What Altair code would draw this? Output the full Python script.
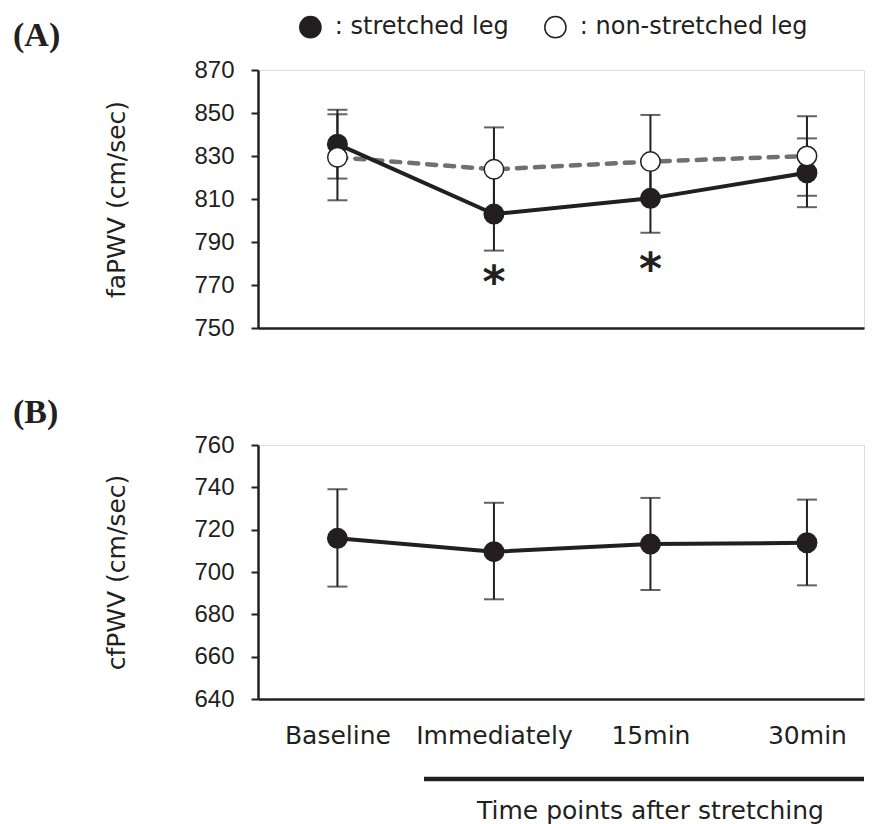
import altair as alt
import pandas as pd

INK = "#231f20"
GRAY = "#707070"

categories = ["Baseline", "Immediately", "15min", "30min"]
series_names = ["stretched leg", "non-stretched leg"]

# Panel A: faPWV (cm/sec)
a_str_mean = [835.5, 803.0, 810.3, 822.2]
a_str_hi = [851.5, 823.8, 827.4, 838.2]
a_str_lo = [819.5, 786.0, 794.3, 806.2]
a_non_mean = [829.4, 823.8, 827.4, 830.0]
a_non_hi = [849.4, 843.3, 849.1, 848.5]
a_non_lo = [809.4, 803.0, 810.3, 811.5]
a_star_cats = ["Immediately", "15min"]
a_star_vals = [774.7, 780.7]
ticks_a = [750, 770, 790, 810, 830, 850, 870]

# Panel B: cfPWV (cm/sec)
b_mean = [715.9, 709.6, 713.2, 713.8]
b_hi = [739.1, 732.7, 735.0, 734.2]
b_lo = [693.1, 687.1, 691.5, 693.7]
ticks_b = [640, 660, 680, 700, 720, 740, 760]

rows = []
for i, c in enumerate(categories):
    rows.append(dict(time=c, series=series_names[0], mean=a_str_mean[i], lo=a_str_lo[i], hi=a_str_hi[i]))
for i, c in enumerate(categories):
    rows.append(dict(time=c, series=series_names[1], mean=a_non_mean[i], lo=a_non_lo[i], hi=a_non_hi[i]))
dfA = pd.DataFrame(rows)
dfStar = pd.DataFrame(dict(time=a_star_cats, val=a_star_vals))
dfB = pd.DataFrame(dict(time=categories, mean=b_mean, lo=b_lo, hi=b_hi))
dfOne = pd.DataFrame(dict(k=[0]))

W = 606


def xenc(axis):
    return alt.X("time:N", sort=categories,
                 scale=alt.Scale(type="point", domain=categories, padding=0.436, align=0.582),
                 axis=axis)


def yaxis(title, values):
    return alt.Axis(values=values, title=title, grid=False,
                    labelFont="Liberation Sans", labelFontSize=24, labelColor=INK,
                    labelPadding=17, tickSize=7, tickWidth=2, tickColor=INK,
                    domainColor=INK, domainWidth=2.5,
                    titleFont="DejaVu Sans", titleFontSize=25, titleFontWeight="normal",
                    titleColor=INK, titleX=-129)


axA_x = alt.Axis(labels=False, ticks=False, title=None, domain=True,
                 domainWidth=2.5, domainColor=INK, grid=False)
axB_x = alt.Axis(labels=True, ticks=False, tickSize=0, grid=False,
                 labelFont="DejaVu Sans", labelFontSize=25, labelColor=INK,
                 labelPadding=24, labelAngle=0,
                 domainWidth=2.5, domainColor=INK,
                 title="Time points after stretching",
                 titleFont="DejaVu Sans", titleFontSize=25, titleFontWeight="normal",
                 titleColor=INK, titleX=392, titleY=119, titleBaseline="alphabetic")

scA = alt.Scale(domain=[750, 870], nice=False, zero=False)
scB = alt.Scale(domain=[640, 760], nice=False, zero=False)
yaA = yaxis("faPWV (cm/sec)", ticks_a)
yaB = yaxis("cfPWV (cm/sec)", ticks_b)

# ---------- Panel A ----------
baseA = alt.Chart(dfA)
errA = baseA.mark_rule(color=INK, strokeWidth=2).encode(
    x=xenc(axA_x), y=alt.Y("lo:Q", scale=scA, axis=yaA), y2="hi:Q")
capLoA = baseA.mark_tick(color=INK, thickness=2, size=20, orient="horizontal").encode(
    x=xenc(axA_x), y=alt.Y("lo:Q", scale=scA, axis=yaA))
capHiA = baseA.mark_tick(color=INK, thickness=2, size=20, orient="horizontal").encode(
    x=xenc(axA_x), y=alt.Y("hi:Q", scale=scA, axis=yaA))
lineNon = baseA.transform_filter(alt.datum.series == series_names[1]).mark_line(
    color=GRAY, strokeWidth=4.5, strokeDash=[9, 9], strokeCap="round").encode(
    x=xenc(axA_x), y=alt.Y("mean:Q", scale=scA, axis=yaA))
lineStr = baseA.transform_filter(alt.datum.series == series_names[0]).mark_line(
    color=INK, strokeWidth=4).encode(
    x=xenc(axA_x), y=alt.Y("mean:Q", scale=scA, axis=yaA))
ptsA = baseA.mark_point(shape="circle", size=380, filled=True, stroke=INK,
                        strokeWidth=1.5, opacity=1).encode(
    x=xenc(axA_x), y=alt.Y("mean:Q", scale=scA, axis=yaA),
    fill=alt.Fill("series:N",
                  scale=alt.Scale(domain=series_names, range=[INK, "white"]),
                  legend=alt.Legend(orient="none", legendX=40.4, legendY=-55,
                                    direction="horizontal", title=None,
                                    symbolType="circle", symbolSize=450,
                                    symbolStrokeColor=INK, symbolStrokeWidth=1.5,
                                    labelFont="DejaVu Sans", labelFontSize=24,
                                    labelColor=INK, labelOffset=12.4,
                                    columnPadding=32, padding=0, labelLimit=400,
                                    labelExpr="': ' + datum.label")))
stars = alt.Chart(dfStar).mark_text(text="*", font="DejaVu Sans", fontWeight="bold",
                                    fontSize=44, color=INK, baseline="middle", dy=9).encode(
    x=xenc(axA_x), y=alt.Y("val:Q", scale=scA, axis=yaA))

panelA = alt.layer(errA, capLoA, capHiA, lineNon, lineStr, ptsA, stars).properties(
    width=W, height=258,
    title=alt.TitleParams("(A)", anchor="start", frame="group", dx=-245, dy=22, offset=0,
                          baseline="alphabetic", font="Liberation Serif", fontSize=34,
                          fontWeight="bold", color=INK))

# ---------- Panel B ----------
baseB = alt.Chart(dfB)
errB = baseB.mark_rule(color=INK, strokeWidth=2).encode(
    x=xenc(axB_x), y=alt.Y("lo:Q", scale=scB, axis=yaB), y2="hi:Q")
capLoB = baseB.mark_tick(color=INK, thickness=2, size=20, orient="horizontal").encode(
    x=xenc(axB_x), y=alt.Y("lo:Q", scale=scB, axis=yaB))
capHiB = baseB.mark_tick(color=INK, thickness=2, size=20, orient="horizontal").encode(
    x=xenc(axB_x), y=alt.Y("hi:Q", scale=scB, axis=yaB))
lineB = baseB.mark_line(color=INK, strokeWidth=4).encode(
    x=xenc(axB_x), y=alt.Y("mean:Q", scale=scB, axis=yaB))
ptsB = baseB.mark_point(shape="circle", size=380, filled=True, color=INK,
                        stroke=INK, strokeWidth=1.5, opacity=1).encode(
    x=xenc(axB_x), y=alt.Y("mean:Q", scale=scB, axis=yaB))
bracket = alt.Chart(dfOne).mark_rule(color=INK, strokeWidth=4.5).encode(
    x=alt.value(166), x2=alt.value(W), y=alt.value(334))

panelB = alt.layer(errB, capLoB, capHiB, lineB, ptsB, bracket).properties(
    width=W, height=254,
    title=alt.TitleParams("(B)", anchor="start", frame="group", dx=-245, dy=34, offset=10,
                          baseline="alphabetic", font="Liberation Serif", fontSize=34,
                          fontWeight="bold", color=INK))

chart = alt.vconcat(panelA, panelB, spacing=54).properties(
    padding={"left": 4, "top": 7, "right": 0, "bottom": 0}
).configure_view(stroke=None).configure(background="white")

chart.save("out.html", embed_options={"renderer": "svg", "actions": False})
